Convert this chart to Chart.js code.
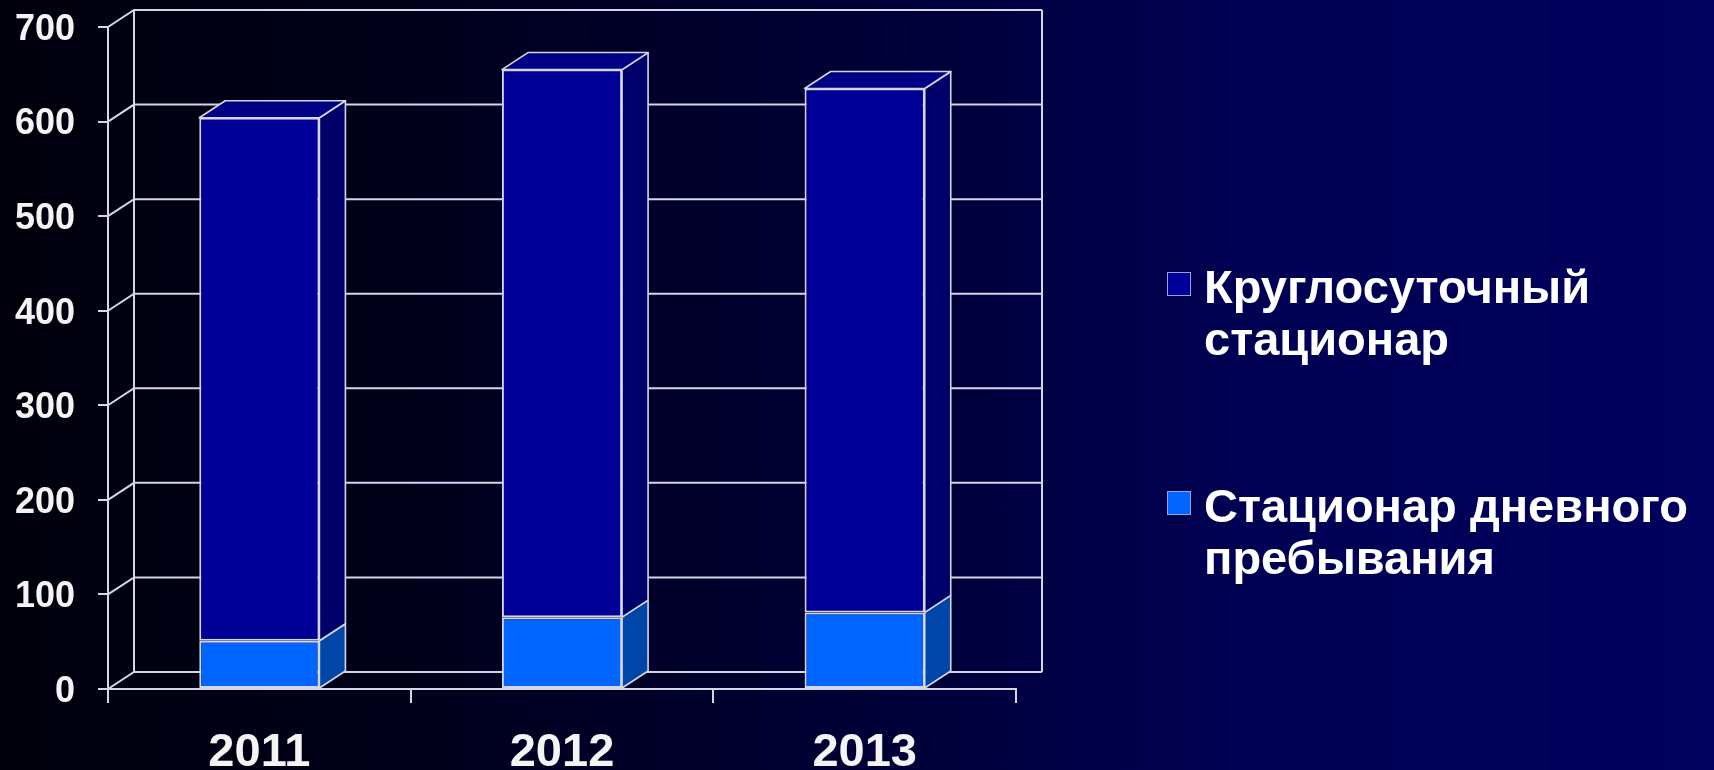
<!DOCTYPE html>
<html lang="ru">
<head>
<meta charset="utf-8">
<title>Стационар 2011–2013</title>
<script src="https://cdn.jsdelivr.net/npm/chart.js@4/dist/chart.umd.min.js"></script>
<style>
  html, body { margin: 0; padding: 0; }
  body {
    width: 1714px; height: 770px; overflow: hidden; position: relative;
    background: linear-gradient(90deg, #00000c 0%, #00001c 25%, #000036 50%, #000052 72%, #00005e 100%);
    font-family: 'Liberation Sans', Arial, sans-serif;
  }
  #wrap { position: absolute; left: 0; top: 0; width: 1714px; height: 770px; }
  #legend { position: absolute; left: 0; top: 0; color: #fff; font-weight: bold; font-size: 47px; line-height: 52px; }
  .lg-item { position: absolute; left: 1167px; white-space: nowrap; }
  .lg-box { position: absolute; left: 0; width: 22px; height: 22px; border: 1px solid #9aa0d8; }
  .lg-text { position: absolute; left: 37px; top: 0; }
</style>
</head>
<body>
<div id="wrap"><canvas id="chart"></canvas></div>
<div id="legend"></div>
<script>
'use strict';

// ══════════════════════════════════════
// DATA
// ══════════════════════════════════════
var years      = ['2011', '2012', '2013'];
var dayStay    = [51, 76, 81];       // стационар дневного пребывания
var roundClock = [553, 579, 554];    // круглосуточный стационар
var yTicks     = [0, 100, 200, 300, 400, 500, 600, 700];

var labelDay   = ['Стационар дневного', 'пребывания'];
var labelRound = ['Круглосуточный', 'стационар'];

// ── Palette ───────────────────────────────────────────────────────────────
var C = {
  line:      '#d4d6e6',
  text:      '#f4f4f4',
  darkFront: '#000099',
  darkTop:   '#000084',
  darkSide:  '#00006a',
  lightFront:'#0066ff',
  lightSide: '#0045a8'
};

// depth offset of the 3D box (front plane -> back wall)
var DX = 26, DY = -17;

// ── 3D walls, bar sides and tops ──────────────────────────────────────────
function poly(ctx, pts, fill) {
  ctx.beginPath();
  ctx.moveTo(pts[0][0], pts[0][1]);
  for (var i = 1; i < pts.length; i++) ctx.lineTo(pts[i][0], pts[i][1]);
  ctx.closePath();
  ctx.fillStyle = fill;
  ctx.fill();
  ctx.stroke();
}

var box3d = {
  id: 'box3d',
  beforeDatasetsDraw: function(chart) {
    var ctx = chart.ctx, a = chart.chartArea, y = chart.scales.y;
    ctx.save();
    ctx.strokeStyle = C.line;
    ctx.lineWidth = 2;
    ctx.beginPath();
    y.ticks.forEach(function(t) {
      var py = y.getPixelForValue(t.value);
      ctx.moveTo(a.left, py);
      ctx.lineTo(a.left + DX, py + DY);
      ctx.lineTo(a.right + DX, py + DY);
    });
    ctx.moveTo(a.left + DX, a.top + DY);
    ctx.lineTo(a.left + DX, a.bottom + DY);
    ctx.moveTo(a.right + DX, a.top + DY);
    ctx.lineTo(a.right + DX, a.bottom + DY);
    ctx.stroke();
    ctx.restore();
  },
  afterDatasetsDraw: function(chart) {
    var ctx = chart.ctx;
    var last = chart.data.datasets.length - 1;
    ctx.save();
    ctx.strokeStyle = C.line;
    ctx.lineWidth = 1.6;
    ctx.lineJoin = 'round';
    chart.data.datasets.forEach(function(ds, di) {
      chart.getDatasetMeta(di).data.forEach(function(bar) {
        var p = bar.getProps(['x', 'y', 'base', 'width'], true);
        var x1 = p.x - p.width / 2, x2 = p.x + p.width / 2;
        var top = Math.min(p.y, p.base), bot = Math.max(p.y, p.base);
        poly(ctx, [[x2, top], [x2 + DX, top + DY], [x2 + DX, bot + DY], [x2, bot]], ds.sideColor);
        if (di === last) {
          poly(ctx, [[x1, top], [x1 + DX, top + DY], [x2 + DX, top + DY], [x2, top]], ds.topColor);
        }
      });
    });
    ctx.restore();
  }
};

// ══════════════════════════════════════
// CHART
// ══════════════════════════════════════
var chart = new Chart(document.getElementById('chart'), {
  type: 'bar',
  data: {
    labels: years,
    datasets: [
      {
        label: labelDay.join(' '),
        data: dayStay,
        backgroundColor: C.lightFront,
        sideColor: C.lightSide,
        topColor: C.lightFront,
        borderColor: C.line,
        borderWidth: 2,
        borderSkipped: false
      },
      {
        label: labelRound.join(' '),
        data: roundClock,
        backgroundColor: C.darkFront,
        sideColor: C.darkSide,
        topColor: C.darkTop,
        borderColor: C.line,
        borderWidth: 2,
        borderSkipped: false
      }
    ]
  },
  options: {
    responsive: true,
    maintainAspectRatio: false,
    animation: false,
    devicePixelRatio: 1,
    layout: { padding: { top: 27, right: 698, bottom: 0, left: 0 } },
    categoryPercentage: 1,
    barPercentage: 0.397,
    plugins: { legend: { display: false }, tooltip: { enabled: false } },
    scales: {
      x: {
        stacked: true,
        afterFit: function(s) { s.height = 81; },
        grid: { offset: true, drawOnChartArea: false, drawTicks: true, tickLength: 14, color: C.line, lineWidth: 2 },
        border: { display: true, color: C.line, width: 2 },
        ticks: {
          color: C.text, padding: 22,
          font: { family: "'Liberation Sans', Arial, sans-serif", size: 47, weight: 'bold' }
        }
      },
      y: {
        stacked: true,
        min: 0, max: 700,
        // fixed gutter; label overflow must not push the plot down
        afterFit: function(s) { s.width = 108; s.paddingTop = 0; s.paddingBottom = 0; },
        afterBuildTicks: function(s) { s.ticks = yTicks.map(function(v) { return { value: v }; }); },
        grid: { drawOnChartArea: false, drawTicks: true, tickLength: 10, color: C.line, lineWidth: 2 },
        border: { display: true, color: C.line, width: 2 },
        ticks: {
          color: C.text, padding: 23, labelOffset: 3,
          font: { family: "'Liberation Sans', Arial, sans-serif", size: 36, weight: 'bold' }
        }
      }
    }
  },
  plugins: [box3d]
});

// ── Legend (dark series first, two-line labels) ──────────────────────────
(function buildLegend() {
  var items = [
    { lines: labelRound, color: C.darkFront, top: 272 },
    { lines: labelDay,   color: C.lightFront, top: 491 }
  ];
  var host = document.getElementById('legend');
  items.forEach(function(it) {
    var el = document.createElement('div');
    el.className = 'lg-item';
    el.style.top = (it.top - 11) + 'px';
    var bx = document.createElement('div');
    bx.className = 'lg-box';
    bx.style.top = '11px';
    bx.style.background = it.color;
    var tx = document.createElement('div');
    tx.className = 'lg-text';
    tx.innerHTML = it.lines.join('<br>');
    el.appendChild(bx);
    el.appendChild(tx);
    host.appendChild(el);
  });
})();
</script>
</body>
</html>
